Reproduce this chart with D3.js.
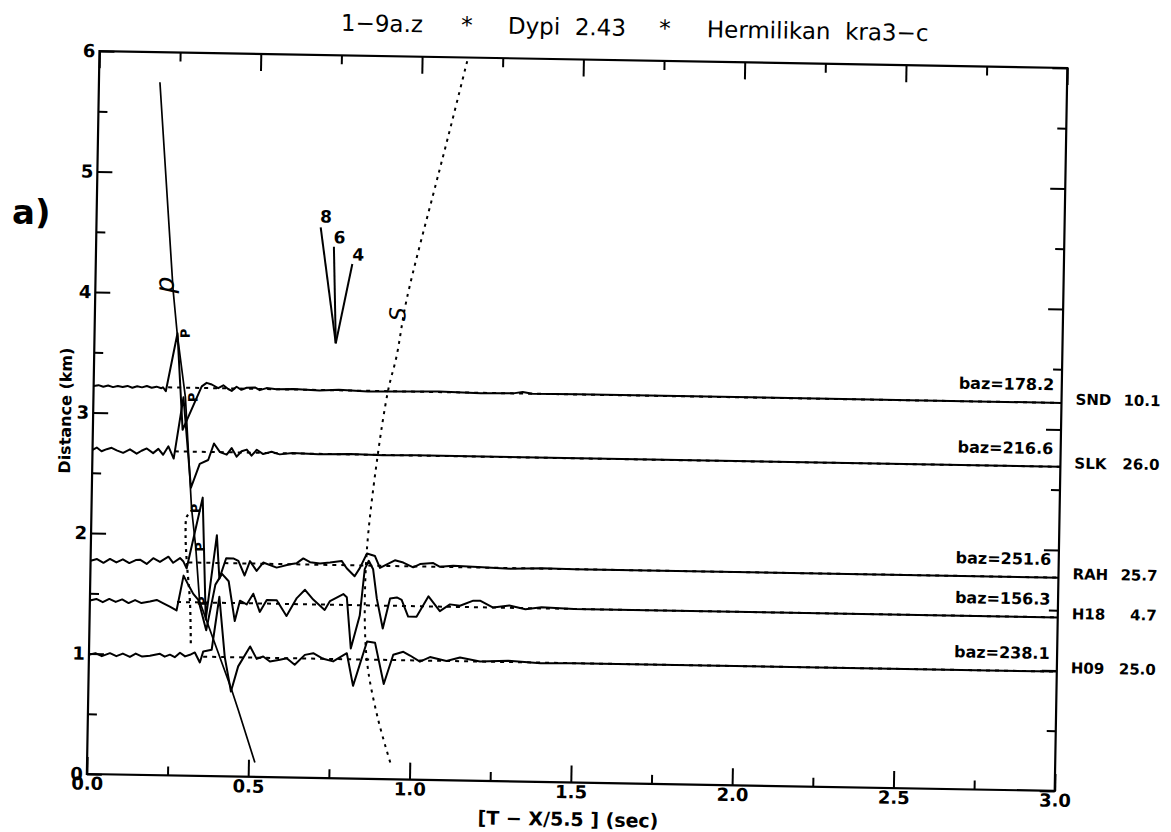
<!DOCTYPE html>
<html>
<head>
<meta charset="utf-8">
<script src="https://cdn.jsdelivr.net/npm/d3@7"></script>
<style>
  body { margin: 0; background: #fff; }
  svg { display: block; }
  text { font-family: "DejaVu Sans", sans-serif; fill: #000; }
</style>
</head>
<body>
<div class="record"></div>
<script>
(function () {

    // stations, top to bottom
    var stations = ["SND", "SLK", "RAH", "H18", "H09"];
    var stationDist = [3.22, 2.69, 1.77, 1.44, 0.99];      // trace baseline (km)
    var stationValue = ["10.1", "26.0", "25.7", "4.7", "25.0"];
    var baz = ["178.2", "216.6", "251.6", "156.3", "238.1"];
    var refStart = [0.231, 0.255, 0.303, 0.27, 0.354];     // dotted reference line start (sec)

    // traces: [time (sec), amplitude (km)]
    var sndTrace = [[0,0],[0.015,0.008],[0.03,-0.004],[0.045,0.006],[0.06,-0.006],[0.075,0.004],[0.09,-0.004],[0.105,0.006],[0.12,-0.008],[0.135,0.004],[0.15,-0.004],[0.165,0.008],[0.18,-0.006],[0.195,0.004],[0.21,-0.008],[0.215,0],[0.224,-0.033],[0.257,0.45],[0.278,-0.35],[0.335,0.013],[0.35,0.043],[0.366,0.03],[0.386,0],[0.402,0.025],[0.417,-0.005],[0.428,-0.02],[0.443,0.015],[0.458,-0.01],[0.474,0.008],[0.5,0.012],[0.515,-0.01],[0.536,0.008],[0.567,0],[0.62,0.005],[0.7,-0.005],[0.76,0.004],[0.85,-0.006],[0.95,0],[1.07,0.004],[1.2,-0.004],[1.3,0],[1.33,0.012],[1.36,0],[1.5,0.002],[3.0,0]];
    var slkTrace = [[0,0],[0.013,0.02],[0.028,-0.01],[0.044,0.008],[0.059,0.02],[0.075,0],[0.095,-0.02],[0.116,0.01],[0.137,-0.025],[0.152,0],[0.168,0.02],[0.188,-0.018],[0.204,0.018],[0.219,-0.03],[0.235,0.041],[0.252,-0.06],[0.279,0.45],[0.307,-0.3],[0.333,-0.1],[0.359,-0.067],[0.376,0.071],[0.395,0],[0.416,-0.02],[0.431,0.035],[0.447,-0.035],[0.462,0.01],[0.478,0.025],[0.493,-0.025],[0.509,0.025],[0.529,-0.01],[0.555,0.01],[0.58,-0.01],[0.62,0.004],[0.7,-0.004],[0.8,0.003],[0.9,-0.003],[1.0,0.002],[3.0,0]];
    var rahTrace = [[0,0],[0.02,0.015],[0.04,-0.015],[0.06,0.018],[0.08,-0.01],[0.1,0.016],[0.12,-0.014],[0.14,0.012],[0.153,0.016],[0.174,-0.018],[0.194,0.03],[0.215,0],[0.241,0.045],[0.256,-0.005],[0.277,0.035],[0.287,0.01],[0.298,-0.05],[0.344,0.54],[0.36,-0.47],[0.39,0.23],[0.4,-0.13],[0.42,0.04],[0.442,0.04],[0.458,0.02],[0.478,-0.1],[0.494,0.02],[0.515,-0.06],[0.535,0.01],[0.577,-0.03],[0.618,0],[0.639,0.01],[0.659,0.05],[0.68,0.02],[0.711,0.01],[0.742,0.02],[0.778,0.035],[0.794,-0.025],[0.819,-0.09],[0.835,-0.02],[0.856,0.1],[0.881,0.08],[0.897,-0.017],[0.943,0.048],[0.969,0.03],[1.0,-0.008],[1.021,0.02],[1.062,0.03],[1.083,0],[1.124,0.01],[1.2,0.005],[1.3,-0.005],[1.4,0.004],[1.5,0],[3.0,0]];
    var h18Trace = [[0,0],[0.02,0.014],[0.04,-0.012],[0.06,0.016],[0.08,-0.008],[0.1,0.014],[0.12,-0.016],[0.14,0.01],[0.16,-0.014],[0.186,0],[0.207,0.014],[0.228,-0.014],[0.248,-0.04],[0.269,-0.07],[0.289,0.22],[0.305,0.14],[0.32,0.07],[0.336,0.02],[0.362,-0.23],[0.388,0.15],[0.408,0.24],[0.429,0.18],[0.45,-0.15],[0.465,0.02],[0.486,-0.01],[0.506,0.08],[0.527,-0.07],[0.548,0.03],[0.579,0.03],[0.61,-0.1],[0.641,0.05],[0.666,0.12],[0.692,0.04],[0.728,-0.044],[0.744,0.03],[0.785,0.09],[0.796,0.064],[0.811,-0.36],[0.837,-0.086],[0.85,0.3],[0.862,0.37],[0.876,0.3],[0.889,0.057],[0.909,-0.19],[0.93,0.06],[0.951,0.07],[0.966,0.05],[0.987,-0.087],[1.013,-0.087],[1.049,0.084],[1.085,-0.038],[1.116,0.02],[1.147,0.01],[1.188,0.054],[1.209,0.055],[1.25,0],[1.3,0.02],[1.35,-0.01],[1.4,0.01],[1.5,0],[3.0,0]];
    var h09Trace = [[0,0],[0.02,0.014],[0.04,-0.01],[0.065,0.016],[0.085,-0.008],[0.105,0.014],[0.127,-0.012],[0.145,0.016],[0.165,-0.008],[0.189,0],[0.22,0.018],[0.235,-0.005],[0.251,0.012],[0.266,-0.008],[0.282,0.03],[0.298,0],[0.313,0.014],[0.328,0.034],[0.344,-0.048],[0.354,0.044],[0.38,0.059],[0.401,0.5],[0.421,0],[0.442,-0.285],[0.463,-0.075],[0.499,0.092],[0.52,-0.01],[0.54,0.01],[0.561,-0.03],[0.592,-0.014],[0.613,0],[0.638,-0.053],[0.669,0.03],[0.695,0.045],[0.726,0],[0.757,-0.02],[0.799,0.05],[0.82,-0.22],[0.861,0.15],[0.886,0.14],[0.915,-0.2],[0.943,0.044],[0.974,0.07],[0.995,0.04],[1.026,-0.01],[1.057,0.03],[1.108,0],[1.15,0.03],[1.212,0],[1.3,0.01],[1.4,-0.005],[1.5,0],[3.0,0]];
    var traces = [sndTrace, slkTrace, rahTrace, h18Trace, h09Trace];

    // P picks
    var pickTime = [0.272, 0.299, 0.314, 0.329, 0.341];
    var pickDist = [3.67, 3.14, 2.22, 1.90, 1.45];

    // travel time curves [time, distance]
    var pCurve = [[0.189,5.75],[0.241,4.03],[0.256,3.67],[0.285,3.14],[0.31,2.22],[0.325,1.9],[0.34,1.45],[0.444,0.72],[0.466,0.55],[0.52,0.12]];
    var pLoop = [[0.314,2.21],[0.296,2.15],[0.293,2.0],[0.298,1.78],[0.31,1.45],[0.315,1.1]];
    var sCurve = [[1.14,5.97],[1.085,5.34],[1.05,4.95],[0.965,3.98],[0.937,3.51],[0.913,3.23],[0.881,2.62],[0.855,1.87],[0.854,1.235],[0.866,0.9],[0.9,0.49],[0.94,0.135]];

    // apparent velocity fan (km/s)
    var fanLabels = ["8", "6", "4"];
    var fanVertex = [0.748, 3.61];
    var fanTips = [[0.695,4.57],[0.737,4.41],[0.795,4.27]];
    var fanLabelPos = [[0.711,4.66],[0.754,4.49],[0.813,4.35]];

    var xMajor = [0, 0.5, 1.0, 1.5, 2.0, 2.5, 3.0];
    var xMinor = [0.25, 0.75, 1.25, 1.75, 2.25, 2.75];
    var yMajor = [0, 1, 2, 3, 4, 5, 6];
    var yMinor = [0.5, 1.5, 2.5, 3.5, 4.5, 5.5];

    var W = 1171, H = 832;
    var left = 93.1, right = 1061.1, top = 59.5, bottom = 782.5;

    var svg = d3.select(".record")
      .append("svg")
        .attr("width", W)
        .attr("height", H);

    // the scanned page is turned by about one degree
    var g = svg.append("g")
        .attr("transform", "rotate(1,577.1,421)");

    var x = d3.scaleLinear().domain([0, 3]).range([left, right]);
    var y = d3.scaleLinear().domain([0, 6]).range([bottom, top]);

    // title
    var title = g.append("text")
        .attr("y", 35)
        .attr("font-size", "23px");
    title.append("tspan").attr("x", 334).text("1\u22129a.z");
    title.append("tspan").attr("x", 460).attr("text-anchor", "middle").text("*");
    title.append("tspan").attr("x", 501).style("white-space", "pre").text("Dypi  2.43");
    title.append("tspan").attr("x", 658).attr("text-anchor", "middle").text("*");
    title.append("tspan").attr("x", 700).style("white-space", "pre").text("Hermilikan  kra3\u2212c");

    // axes: long ticks at labels, short ticks between
    function styleAxis(sel) {
      sel.select(".domain").remove();
      sel.selectAll("line").attr("stroke", "#000").attr("stroke-width", 2);
      sel.selectAll("text")
        .attr("font-family", "DejaVu Sans")
        .attr("font-weight", "bold")
        .attr("font-size", "18px")
        .attr("fill", "#000");
    }

    g.append("g").attr("transform", "translate(0," + bottom + ")")
      .call(d3.axisBottom(x).tickValues(xMajor).tickSize(-17).tickPadding(3).tickFormat(d3.format(".1f")))
      .call(styleAxis);
    g.append("g").attr("transform", "translate(0," + bottom + ")")
      .call(d3.axisBottom(x).tickValues(xMinor).tickSize(-9).tickFormat(""))
      .call(styleAxis);
    g.append("g").attr("transform", "translate(0," + top + ")")
      .call(d3.axisTop(x).tickValues(xMajor).tickSize(-17).tickFormat(""))
      .call(styleAxis);
    g.append("g").attr("transform", "translate(0," + top + ")")
      .call(d3.axisTop(x).tickValues(xMinor).tickSize(-9).tickFormat(""))
      .call(styleAxis);

    g.append("g").attr("transform", "translate(" + left + ",0)")
      .call(d3.axisLeft(y).tickValues(yMajor).tickSize(-15).tickPadding(4).tickFormat(d3.format("d")))
      .call(styleAxis);
    g.append("g").attr("transform", "translate(" + left + ",0)")
      .call(d3.axisLeft(y).tickValues(yMinor).tickSize(-9).tickFormat(""))
      .call(styleAxis);
    g.append("g").attr("transform", "translate(" + right + ",0)")
      .call(d3.axisRight(y).tickValues(yMajor).tickSize(-15).tickFormat(""))
      .call(styleAxis);
    g.append("g").attr("transform", "translate(" + right + ",0)")
      .call(d3.axisRight(y).tickValues(yMinor).tickSize(-9).tickFormat(""))
      .call(styleAxis);

    // frame
    g.append("rect")
      .attr("x", left).attr("y", top)
      .attr("width", right - left).attr("height", bottom - top)
      .attr("fill", "none").attr("stroke", "#000").attr("stroke-width", 2.2);

    // axis titles
    g.append("text")
      .attr("x", 575).attr("y", 826)
      .attr("text-anchor", "middle")
      .attr("font-size", "19px")
      .attr("font-weight", "bold")
      .style("white-space", "pre")
      .text("[T \u2212 X/5.5 ] (sec)");

    g.append("text")
      .attr("transform", "translate(71,419.5) rotate(-90)")
      .attr("text-anchor", "middle")
      .attr("font-size", "16px")
      .attr("font-weight", "bold")
      .text("Distance (km)");

    // dotted reference lines at each station distance
    g.selectAll(".refline")
      .data(stationDist)
      .enter()
      .append("line")
        .attr("class", "refline")
        .attr("x1", function(d, i) { return x(refStart[i]); })
        .attr("x2", x(3))
        .attr("y1", function(d) { return y(d); })
        .attr("y2", function(d) { return y(d); })
        .attr("stroke", "#000")
        .attr("stroke-width", 2)
        .attr("stroke-dasharray", "4,5");

    // travel time curves
    var curve = d3.line()
      .x(function(d) { return x(d[0]); })
      .y(function(d) { return y(d[1]); });

    g.append("path").datum(pCurve)
      .attr("d", curve)
      .attr("fill", "none").attr("stroke", "#000").attr("stroke-width", 1.7);

    g.append("path").datum(pLoop)
      .attr("d", curve.curve(d3.curveCatmullRom))
      .attr("fill", "none").attr("stroke", "#000").attr("stroke-width", 2.2)
      .attr("stroke-dasharray", "3,4");

    g.append("path").datum(sCurve)
      .attr("d", curve.curve(d3.curveCatmullRom))
      .attr("fill", "none").attr("stroke", "#000").attr("stroke-width", 2)
      .attr("stroke-dasharray", "3,5");

    // seismograms
    traces.forEach(function(tr, i) {
      var line = d3.line()
        .x(function(d) { return x(d[0]); })
        .y(function(d) { return y(stationDist[i] + d[1]); });
      g.append("path").datum(tr)
        .attr("d", line)
        .attr("fill", "none")
        .attr("stroke", "#000")
        .attr("stroke-width", 2)
        .attr("stroke-linejoin", "round");
    });

    // P picks
    g.selectAll(".pick")
      .data(pickTime)
      .enter()
      .append("text")
        .attr("class", "pick")
        .attr("transform", function(d, i) { return "translate(" + (x(d) + 3) + "," + y(pickDist[i]) + ") rotate(-90)"; })
        .attr("text-anchor", "middle")
        .attr("dy", "0.35em")
        .attr("font-size", "13px")
        .attr("font-weight", "bold")
        .text("P");

    // phase names
    g.append("text")
      .attr("transform", "translate(" + x(0.218) + "," + y(4.07) + ") rotate(-90)")
      .attr("text-anchor", "middle").attr("dy", "0.3em")
      .attr("font-family", "Liberation Serif").attr("font-style", "italic")
      .attr("font-size", "26px")
      .text("p");
    g.append("text")
      .attr("transform", "translate(" + x(0.938) + "," + y(3.86) + ") rotate(-90)")
      .attr("text-anchor", "middle").attr("dy", "0.35em")
      .attr("font-family", "Liberation Serif").attr("font-style", "italic")
      .attr("font-size", "22px")
      .text("S");

    // velocity fan
    g.selectAll(".fan")
      .data(fanTips)
      .enter()
      .append("line")
        .attr("class", "fan")
        .attr("x1", x(fanVertex[0])).attr("y1", y(fanVertex[1]))
        .attr("x2", function(d) { return x(d[0]); })
        .attr("y2", function(d) { return y(d[1]); })
        .attr("stroke", "#000").attr("stroke-width", 2);
    g.selectAll(".fanlabel")
      .data(fanLabels)
      .enter()
      .append("text")
        .attr("class", "fanlabel")
        .attr("x", function(d, i) { return x(fanLabelPos[i][0]); })
        .attr("y", function(d, i) { return y(fanLabelPos[i][1]); })
        .attr("dy", "0.36em")
        .attr("text-anchor", "middle")
        .attr("font-size", "17px")
        .attr("font-weight", "bold")
        .text(function(d) { return d; });

    // station annotations
    g.selectAll(".baz")
      .data(baz)
      .enter()
      .append("text")
        .attr("class", "baz")
        .attr("x", right - 7.5)
        .attr("y", function(d, i) { return y(stationDist[i]) - 12.5; })
        .attr("text-anchor", "end")
        .attr("font-size", "16px")
        .attr("font-weight", "bold")
        .text(function(d) { return "baz=" + d; });

    g.selectAll(".sta")
      .data(stations)
      .enter()
      .append("text")
        .attr("class", "sta")
        .attr("x", right + 14)
        .attr("y", function(d, i) { return y(stationDist[i]) + 1.5; })
        .attr("font-size", "15px")
        .attr("font-weight", "bold")
        .text(function(d) { return d; });

    g.selectAll(".staval")
      .data(stationValue)
      .enter()
      .append("text")
        .attr("class", "staval")
        .attr("x", right + 99)
        .attr("y", function(d, i) { return y(stationDist[i]) + 1.5; })
        .attr("text-anchor", "end")
        .attr("font-size", "15px")
        .attr("font-weight", "bold")
        .text(function(d) { return d; });

    // panel letter
    svg.append("text")
      .attr("x", 12).attr("y", 224)
      .attr("font-family", "Liberation Serif")
      .attr("font-weight", "bold")
      .attr("font-size", "34px")
      .text("a)");

})();
</script>
</body>
</html>
